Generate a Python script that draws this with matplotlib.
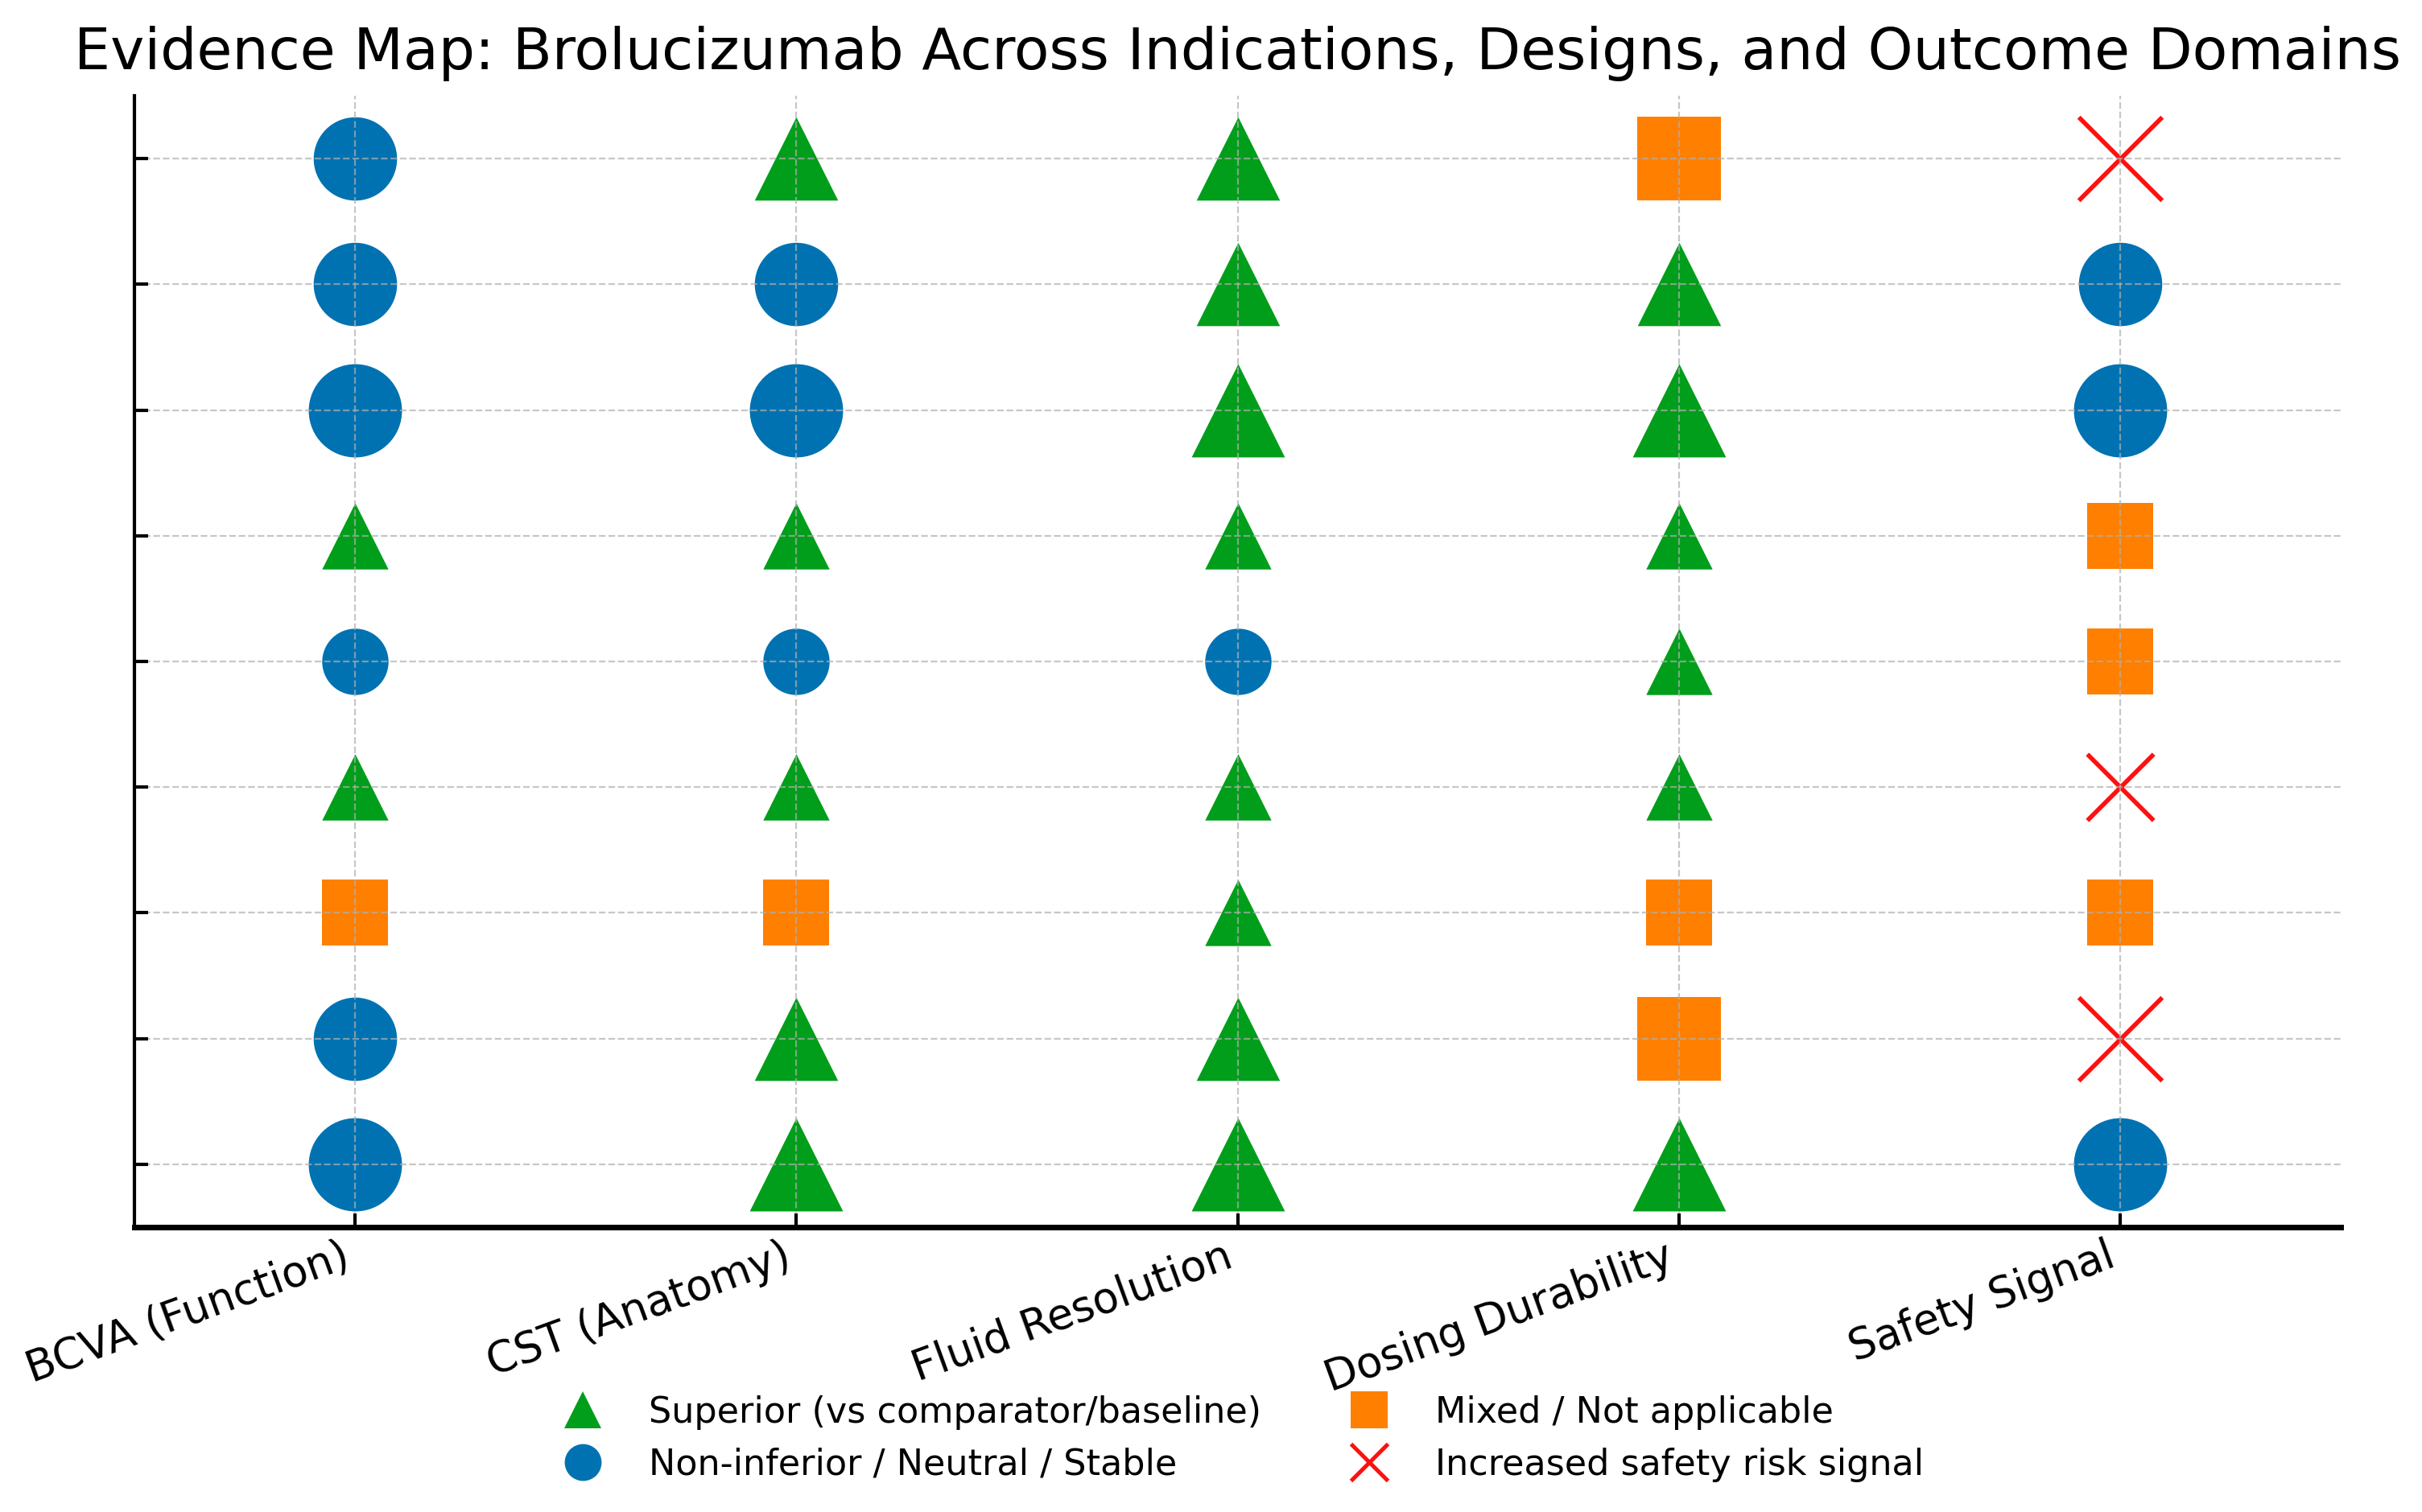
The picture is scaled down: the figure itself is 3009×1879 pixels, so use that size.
import matplotlib
matplotlib.use("Agg")
import matplotlib.pyplot as plt
from matplotlib.lines import Line2D
import numpy as np

# outcome domains (x axis)
domains = ["BCVA (Function)", "CST (Anatomy)", "Fluid Resolution",
           "Dosing Durability", "Safety Signal"]

# one row per study, listed top to bottom
# S = superior, N = non-inferior/neutral, M = mixed/NA, R = safety risk
findings = [
    ["N", "S", "S", "M", "R"],
    ["N", "N", "S", "S", "N"],
    ["N", "N", "S", "S", "N"],
    ["S", "S", "S", "S", "M"],
    ["N", "N", "N", "S", "M"],
    ["S", "S", "S", "S", "R"],
    ["M", "M", "S", "M", "M"],
    ["N", "S", "S", "M", "R"],
    ["N", "S", "S", "S", "N"],
]

# evidence weight per study (drives marker size)
weights = [2, 2, 3, 1, 1, 1, 1, 2, 3]

legend_labels = {
    "S": "Superior (vs comparator/baseline)",
    "N": "Non-inferior / Neutral / Stable",
    "M": "Mixed / Not applicable",
    "R": "Increased safety risk signal",
}

styles = {
    "S": dict(marker="^", color="#009E1A"),
    "N": dict(marker="o", color="#0072B2"),
    "M": dict(marker="s", color="#FF7F00"),
    "R": dict(marker="x", color="#FF1010"),
}
size_for_weight = {1: 880, 2: 1390, 3: 1740}

fig = plt.figure(figsize=(15.045, 9.395), dpi=200)
ax = fig.add_axes([0.0555, 0.1884, 0.9110, 0.7483])

n_rows = len(findings)
for i, row in enumerate(findings):
    y = n_rows - 1 - i
    for j, code in enumerate(row):
        st = styles[code]
        lw = 2 if code == "R" else 0
        ax.scatter(j, y, s=size_for_weight[weights[i]], marker=st["marker"],
                   color=st["color"], linewidths=lw)

ax.set_xlim(-0.5, len(domains) - 0.5)
ax.set_ylim(-0.5, n_rows - 0.5)
ax.set_xticks(range(len(domains)))
ax.set_xticklabels(domains, rotation=20, ha="right", fontsize=19)
ax.set_yticks(range(n_rows))
ax.set_yticklabels([])
ax.tick_params(direction="in", length=6, width=1.5)
ax.grid(True, linestyle="--", linewidth=0.8, alpha=0.7)

ax.spines["top"].set_visible(False)
ax.spines["right"].set_visible(False)
ax.spines["left"].set_linewidth(1.5)
ax.spines["bottom"].set_linewidth(2.5)

ax.set_title("Evidence Map: Brolucizumab Across Indications, Designs, and Outcome Domains",
             fontsize=25.7, pad=12)

handles = []
for code in ["S", "N", "M", "R"]:
    st = styles[code]
    handles.append(Line2D([], [], linestyle="none", marker=st["marker"],
                          color=st["color"], markersize=16.5,
                          markeredgewidth=1.8 if code == "R" else 0,
                          label=legend_labels[code]))
ax.legend(handles=handles, loc="upper center", bbox_to_anchor=(0.499, -0.12),
          ncol=2, frameon=False, fontsize=16, columnspacing=2.02,
          handletextpad=0.85, labelspacing=0.5)

fig.savefig("out.png", dpi=200)
